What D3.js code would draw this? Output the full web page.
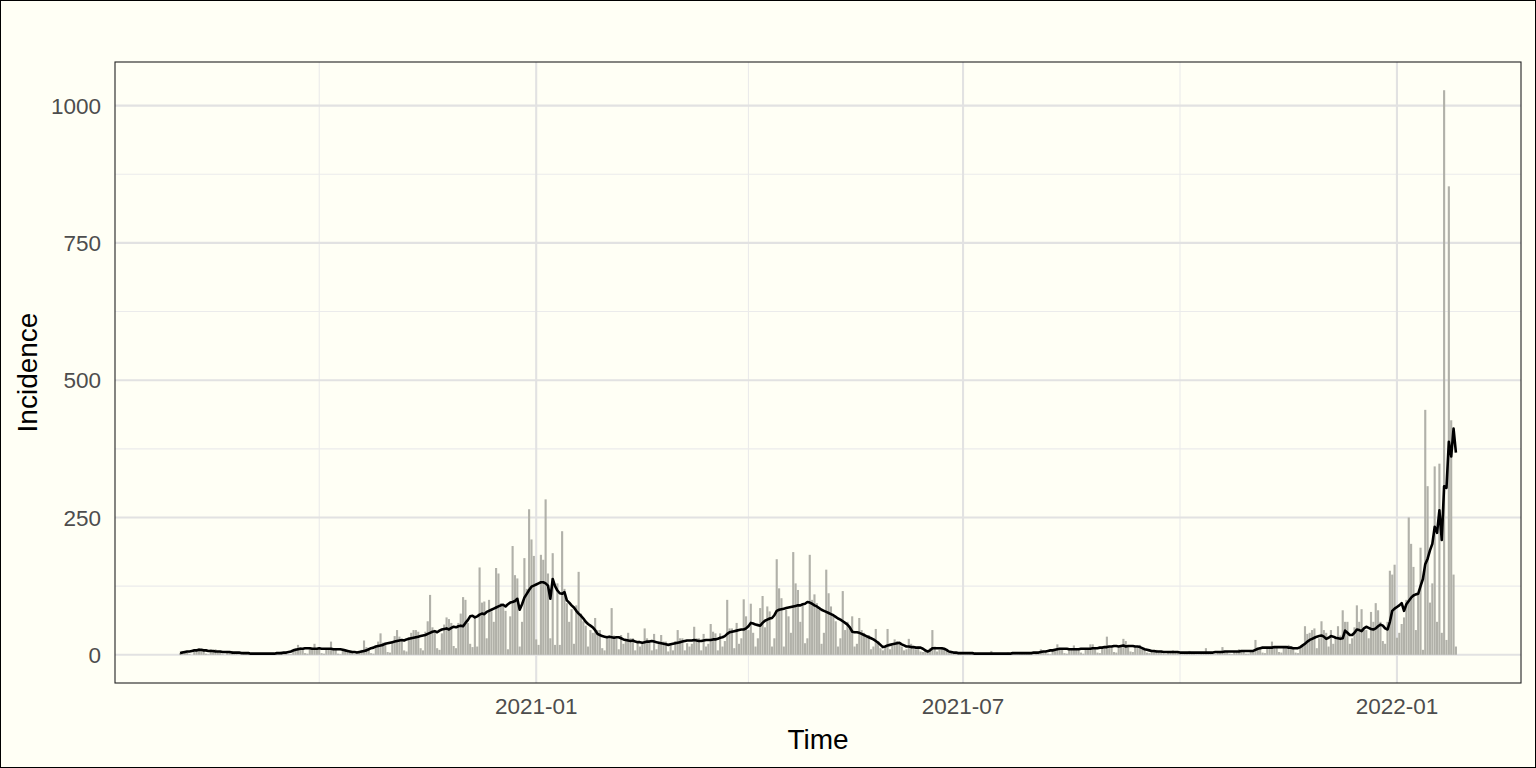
<!DOCTYPE html>
<html><head><meta charset="utf-8">
<script src="https://cdn.jsdelivr.net/npm/d3@7"></script>
<style>body{margin:0;background:#fff}svg text{font-family:"Liberation Sans",Arial,sans-serif}</style>
</head><body>
<svg id="c" width="1536" height="768"></svg>
<script>
// ---- data ----
const startDate = "2020-08-03";   // first day of the daily series
const incidence = [
3,7,5,4,1,0,5, 9,12,8,7,2,1,10, 6,10,5,6,1,0,7, 4,7,3,4,1,0,4,
2,4,2,2,0,0,2, 2,3,2,2,0,0,2, 3,6,4,5,1,1,8, 12,18,14,12,3,2,14,
13,20,12,11,3,2,12, 12,24,10,10,2,1,9, 6,9,5,4,1,1,5, 9,26,14,12,3,2,15,
24,39,22,20,5,4,24, 34,45,33,28,8,6,32, 40,45,45,42,12,8,42, 61,109,50,40,12,9,39,
55,68,65,58,16,12,58, 75,105,100,58,20,14,67, 15,159,95,97,30,100,79, 60,158,148,94,91,80,10,
70,198,145,139,15,60,176, 120,265,210,180,28,18,182, 173,283,148,30,185,18,130, 18,225,120,94,60,83,20,
90,151,75,61,53,15,45, 40,67,45,45,12,8,33, 30,85,35,30,10,36,20, 27,40,30,30,8,24,15,
20,48,30,27,8,38,10, 20,36,24,24,6,21,8, 25,45,30,30,8,21,15, 20,51,30,30,8,38,15,
20,56,42,39,8,39,15, 25,100,48,48,12,58,20, 30,101,70,45,93,40,15, 30,85,107,50,88,79,15,
30,174,121,103,15,82,70, 40,187,130,118,60,90,21, 30,182,100,110,94,82,20, 40,155,112,88,70,61,15,
30,116,45,60,50,70,15, 20,67,45,40,35,36,10, 15,47,25,12,8,15,47, 10,17,28,25,20,15,8,
10,29,20,15,10,15,6, 5,10,8,12,45,15,6, 9,12,10,8,3,4,3, 3,5,4,3,1,1,3,
2,4,3,2,1,0,2, 2,7,2,2,1,0,2, 2,4,3,2,1,1,3, 3,5,3,3,1,1,4,
5,10,6,5,2,1,9, 10,19,10,9,3,2,9, 10,17,11,10,4,2,12, 12,19,19,11,4,3,12,
14,33,15,16,5,4,14, 16,29,25,15,6,5,15, 14,18,12,10,4,3,8, 7,9,6,6,2,1,6,
5,8,5,5,2,1,5, 4,7,4,4,1,1,4, 4,12,5,4,1,1,4, 5,14,6,6,2,1,6,
6,10,7,7,2,2,7, 8,27,12,13,4,3,14, 14,24,15,14,5,4,15, 15,18,15,12,4,3,14,
18,52,38,40,45,48,12, 30,61,45,40,15,45,20, 30,52,35,81,60,60,20, 30,50,90,60,83,45,45,
30,78,60,94,81,60,25, 20,60,153,146,164,31,40, 56,68,100,250,202,160,45, 110,195,9,446,307,95,130,
343,60,348,40,1028,27,853, 427,146,15
];
const smoothed = [
3,4,5,6,6,7,8, 8,9,9,8,8,7,7, 7,6,6,6,5,5,5, 5,4,4,4,4,3,3,
3,3,2,2,2,2,2, 2,2,2,2,2,2,3, 3,3,4,4,5,6,8, 9,10,11,11,12,12,12,
11,11,11,12,11,11,11, 11,11,10,10,10,10,9, 8,7,6,5,5,4,5, 6,7,8,10,12,13,15,
16,17,18,20,21,22,23, 24,25,26,27,26,28,29, 30,31,32,33,34,35,36, 38,40,42,43,41,44,46,
47,48,46,49,51,50,52, 53,52,58,63,70,71,68, 70,73,75,74,78,80,82, 84,86,88,90,91,88,92,
95,96,98,102,82,92,104, 111,118,124,126,128,130,132, 132,130,126,102,138,125,117, 112,111,114,99,95,90,86,
80,75,71,66,60,56,53, 50,45,38,36,34,33,32, 33,32,31,32,32,30,28, 27,26,25,26,24,23,23,
22,23,24,24,25,24,23, 22,21,20,19,18,19,20, 21,22,23,24,25,26,26, 26,27,26,25,25,26,27,
27,27,28,28,29,31,32, 34,38,41,42,43,44,45, 46,46,48,52,58,57,55, 54,53,58,62,64,66,67,
72,80,82,83,84,85,86, 87,88,89,90,90,92,93, 96,95,93,90,88,85,82, 80,78,76,74,72,69,66,
64,61,58,55,50,42,41, 41,40,38,36,34,32,30, 28,25,22,18,14,15,17, 18,19,20,21,22,19,17,
15,15,14,14,13,13,13, 11,8,6,8,12,12,12, 12,12,11,9,6,5,4, 4,3,3,3,3,3,3,
3,2,2,2,2,2,2, 2,2,2,2,2,2,2, 2,2,2,3,3,3,3, 3,3,3,3,3,4,4,
4,5,6,6,7,8,8, 9,10,11,11,11,11,10, 10,10,10,10,11,11,11, 11,11,12,12,12,13,13,
14,14,15,15,16,16,15, 16,17,15,16,16,16,15, 15,14,12,10,9,8,7, 7,6,6,6,5,5,5,
5,5,5,5,4,4,4, 4,4,4,4,4,4,4, 4,4,4,4,4,5,5, 5,5,6,6,6,6,6,
6,6,7,7,7,7,7, 7,9,11,12,13,13,13, 13,13,14,14,14,14,14, 14,13,13,12,12,12,14,
17,20,24,27,29,31,33, 34,35,33,29,31,34,33, 31,30,29,30,44,40,36, 36,40,46,45,43,48,51,
49,47,46,48,52,55,53, 48,46,60,80,84,87,90, 94,80,92,98,104,108,110, 111,125,138,165,175,190,202,
233,222,263,209,307,304,388, 361,412,368
];
const yTicks = [0, 250, 500, 750, 1000];
const yMinorTicks = [125, 375, 625, 875];
const xTickLabels = ["2021-01", "2021-07", "2022-01"];
const xMinorTicks = ["2020-10", "2021-04", "2021-10"];
const xTitle = "Time", yTitle = "Incidence";

// ---- layout ----
const W = 1536, H = 768;
const P = {l: 115, r: 1521, t: 62, b: 683};
const DAY = 864e5;
const t0 = Date.parse(startDate + "T00:00:00Z");
const dates = incidence.map((_, i) => new Date(t0 + i * DAY));
const n = incidence.length;
const pad = 0.05 * n;

const x = d3.scaleUtc()
  .domain([new Date(t0 - (0.5 + pad) * DAY), new Date(t0 + (n - 0.5 + pad) * DAY)])
  .range([P.l, P.r]);
const ymax = d3.max(incidence);
const y = d3.scaleLinear()
  .domain([-0.05 * ymax, ymax * 1.05])
  .range([P.b, P.t]);

const parseM = d3.utcParse("%Y-%m");
const svg = d3.select("#c");
const bg = "#fffff5";

svg.append("rect").attr("x", 0.5).attr("y", 0.5).attr("width", W - 1).attr("height", H - 1)
  .attr("fill", bg).attr("stroke", "#000").attr("stroke-width", 1);

svg.append("defs").append("clipPath").attr("id", "clip").append("rect")
  .attr("x", P.l).attr("y", P.t).attr("width", P.r - P.l).attr("height", P.b - P.t);

const g = svg.append("g").attr("clip-path", "url(#clip)");

// grid
g.selectAll(".ymin").data(yMinorTicks).join("line")
  .attr("x1", P.l).attr("x2", P.r).attr("y1", d => y(d)).attr("y2", d => y(d))
  .attr("stroke", "#ebebeb").attr("stroke-width", 1.1);
g.selectAll(".xmin").data(xMinorTicks).join("line")
  .attr("y1", P.t).attr("y2", P.b).attr("x1", d => x(parseM(d))).attr("x2", d => x(parseM(d)))
  .attr("stroke", "#ebebeb").attr("stroke-width", 1.1);
g.selectAll(".ymaj").data(yTicks).join("line")
  .attr("x1", P.l).attr("x2", P.r).attr("y1", d => y(d)).attr("y2", d => y(d))
  .attr("stroke", "#e2e2e2").attr("stroke-width", 2.1);
g.selectAll(".xmaj").data(xTickLabels).join("line")
  .attr("y1", P.t).attr("y2", P.b).attr("x1", d => x(parseM(d))).attr("x2", d => x(parseM(d)))
  .attr("stroke", "#e2e2e2").attr("stroke-width", 2.1);

// bars
const bw = x(new Date(t0 + 0.9 * DAY)) - x(new Date(t0));
g.selectAll(".bar").data(incidence).join("rect")
  .attr("x", (d, i) => x(dates[i]) - bw / 2)
  .attr("width", bw)
  .attr("y", d => y(d))
  .attr("height", d => y(0) - y(d))
  .attr("fill", "#b1b1a9");

// line
const line = d3.line().x((d, i) => x(dates[i])).y(d => y(d));
g.append("path").datum(smoothed).attr("d", line)
  .attr("fill", "none").attr("stroke", "#000").attr("stroke-width", 2.6)
  .attr("stroke-linejoin", "round").attr("stroke-linecap", "butt");

// panel border
svg.append("rect").attr("x", P.l).attr("y", P.t).attr("width", P.r - P.l).attr("height", P.b - P.t)
  .attr("fill", "none").attr("stroke", "#222").attr("stroke-width", 1.1);

// axes labels
svg.selectAll(".yt").data(yTicks).join("text")
  .attr("x", 101).attr("y", d => y(d)).attr("dy", "0.36em")
  .attr("text-anchor", "end").attr("font-size", 22.5).attr("fill", "#4d4d4d")
  .text(d => d);
svg.selectAll(".xt").data(xTickLabels).join("text")
  .attr("x", d => x(parseM(d))).attr("y", 714)
  .attr("text-anchor", "middle").attr("font-size", 22.5).attr("fill", "#4d4d4d")
  .text(d => d);
svg.append("text").attr("x", (P.l + P.r) / 2).attr("y", 749)
  .attr("text-anchor", "middle").attr("font-size", 28).attr("fill", "#000").text(xTitle);
svg.append("text").attr("transform", `translate(37,${(P.t + P.b) / 2}) rotate(-90)`)
  .attr("text-anchor", "middle").attr("font-size", 28).attr("fill", "#000").text(yTitle);
</script>
</body></html>
